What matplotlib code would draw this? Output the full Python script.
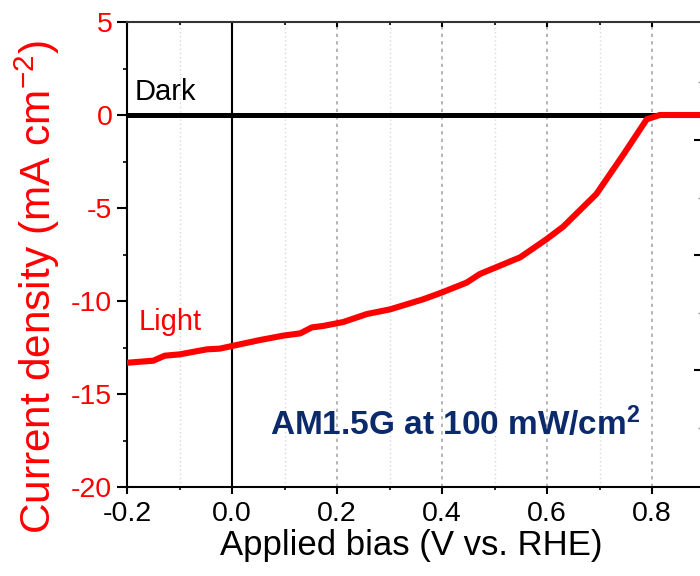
import matplotlib
matplotlib.use("Agg")
import matplotlib.pyplot as plt
from matplotlib.ticker import MultipleLocator

plt.rcParams['font.family'] = ['Liberation Sans', 'DejaVu Sans']
plt.rcParams['mathtext.default'] = 'regular'

# J-V curve under illumination (V vs. RHE, mA cm^-2)
bias_light = [-0.2, -0.15, -0.128, -0.1, -0.048, -0.023, 0.0, 0.053, 0.098, 0.13,
              0.152, 0.174, 0.212, 0.257, 0.301, 0.364, 0.399, 0.447, 0.472, 0.549,
              0.599, 0.631, 0.694, 0.745, 0.79, 0.815, 0.85, 0.9]
current_light = [-13.32, -13.21, -12.94, -12.87, -12.6, -12.56, -12.42, -12.1, -11.86, -11.74,
                 -11.42, -11.34, -11.13, -10.7, -10.45, -9.91, -9.55, -9.01, -8.55, -7.65,
                 -6.68, -6.0, -4.25, -2.15, -0.23, 0.0, 0.0, 0.0]

# dark current is flat at zero
bias_dark = [-0.2, 0.9]
current_dark = [0.0, 0.0]

xticks = [-0.2, 0.0, 0.2, 0.4, 0.6, 0.8]
xtick_labels = ['-0.2', '0.0', '0.2', '0.4', '0.6', '0.8']
yticks = [5, 0, -5, -10, -15, -20]
ytick_labels = ['5', '0', '-5', '-10', '-15', '-20']

red = '#ff0000'
navy = '#0b2a6b'

fig = plt.figure(figsize=(7, 5.76), dpi=100)
ax = fig.add_axes([127/700, 89/576, 577.5/700, 465/576])

# grid: darker dashes every 0.2, faint dots in between
for v in [-0.1, 0.1, 0.3, 0.5, 0.7]:
    ax.axvline(v, color='#d8d8d8', lw=1, ls=(0, (1, 2)), zorder=0)
for v in [0.2, 0.4, 0.6, 0.8]:
    ax.axvline(v, color='#a8a8a8', lw=1.2, ls=(0, (2, 2.5)), zorder=0)
ax.axvline(0.0, color='black', lw=1.5, zorder=1)

ax.plot(bias_dark, current_dark, color='black', lw=3.6, zorder=2)
ax.plot(bias_light, current_light, color=red, lw=4.4, zorder=3,
        solid_joinstyle='round', solid_capstyle='butt')

ax.set_xlim(-0.2, 0.9)
ax.set_ylim(-20, 5)
ax.xaxis.set_minor_locator(MultipleLocator(0.1))
ax.yaxis.set_minor_locator(MultipleLocator(2.5))
ax.set_xticks(xticks)
ax.set_xticklabels(xtick_labels)
ax.set_yticks(yticks)
ax.set_yticklabels(ytick_labels)

ax.tick_params(axis='x', which='both', direction='out', top=False, labelsize=20.5, pad=5)
ax.tick_params(axis='x', which='major', length=5, width=1.5)
ax.tick_params(axis='x', which='minor', length=2.5, width=1.2)
ax.tick_params(axis='y', which='both', direction='out', labelsize=20.5, labelcolor=red, pad=3.6)
ax.tick_params(axis='y', which='major', length=7, width=1.5)
ax.tick_params(axis='y', which='minor', length=3, width=1.2)
for s in ['left', 'bottom', 'top']:
    ax.spines[s].set_linewidth(1.5)
ax.spines['top'].set_color('#333333')

# inward ticks on the top spine
sec = ax.secondary_xaxis('top')
sec.xaxis.set_major_locator(MultipleLocator(0.2))
sec.xaxis.set_minor_locator(MultipleLocator(0.1))
sec.tick_params(which='both', direction='in', labeltop=False)
sec.tick_params(which='major', length=3.6, width=1.5)
sec.tick_params(which='minor', length=2.2, width=1.2)
sec.spines['top'].set_visible(False)

ax.set_xlabel('Applied bias (V vs. RHE)', fontsize=25)
ax.xaxis.set_label_coords(0.4926, -0.09)
ax.set_ylabel('Current density (mA cm$^{-2}$)', fontsize=30.5, color=red)
ax.yaxis.set_label_coords(-0.113, 0.43)

ax.text(-0.185, 0.8, 'Dark', fontsize=21, color='black', va='baseline', ha='left')
ax.text(-0.177, -11.56, 'Light', fontsize=21, color=red, va='baseline', ha='left')
ax.text(0.072, -17.2, 'AM1.5G at 100 mW/cm$^{2}$', fontsize=24, fontweight='bold',
        color=navy, va='baseline', ha='left')

# left spine of the neighbouring panel, just past the right edge
ax2 = fig.add_axes([701/700, 89/576, 0.3, 465/576])
for s in ['top', 'right', 'bottom']:
    ax2.spines[s].set_visible(False)
ax2.spines['left'].set_linewidth(1.2)
ax2.set_ylim(-0.017, 4.026)
ax2.set_yticks([1, 2, 3])
ax2.set_yticks([0.5, 1.5, 2.5, 3.5], minor=True)
ax2.tick_params(axis='y', which='major', direction='out', length=5, width=1.5, labelleft=False)
ax2.tick_params(axis='y', which='minor', direction='out', length=2, width=1, color='#999999', labelleft=False)
ax2.set_xticks([])

fig.savefig('out.png', dpi=100)
